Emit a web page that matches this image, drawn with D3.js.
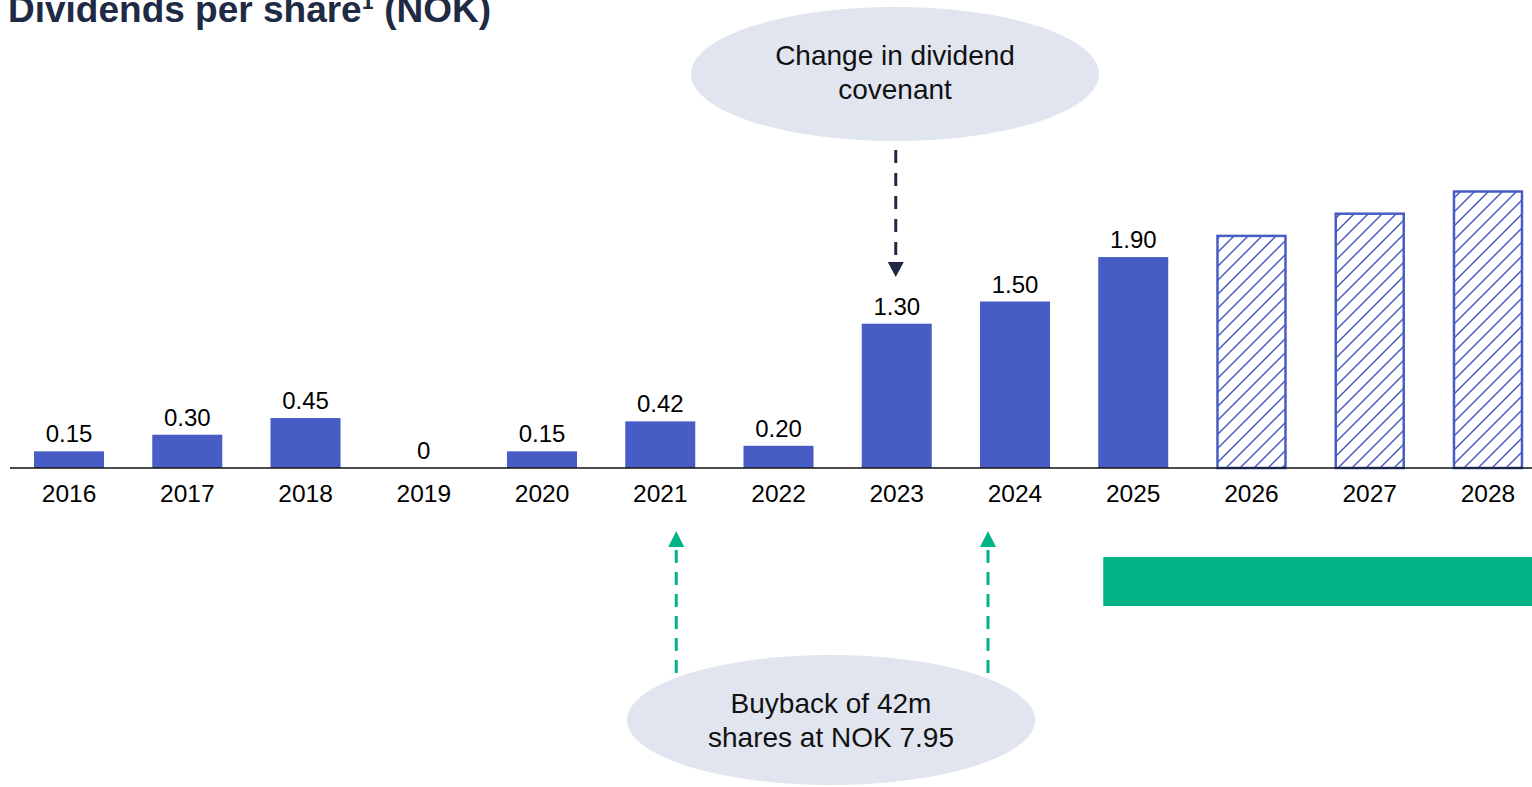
<!DOCTYPE html>
<html>
<head>
<meta charset="utf-8">
<script src="https://cdn.jsdelivr.net/npm/d3@7"></script>
<style>
  html, body { margin: 0; padding: 0; background: #fff; overflow: hidden; }
  text { font-family: "Liberation Sans", Arial, sans-serif; }
</style>
</head>
<body>
<div id="chart"></div>
<script>
// Dividenden je Aktie, 2026-2028 als Ziel (schraffiert)
const years = ["2016", "2017", "2018", "2019", "2020", "2021", "2022", "2023", "2024", "2025", "2026", "2027", "2028"];
const dividends = [0.15, 0.30, 0.45, 0, 0.15, 0.42, 0.20, 1.30, 1.50, 1.90, 2.10, 2.30, 2.50];
const valueLabels = ["0.15", "0.30", "0.45", "0", "0.15", "0.42", "0.20", "1.30", "1.50", "1.90", "", "", ""];
const isTarget = [false, false, false, false, false, false, false, false, false, false, true, true, true];

const W = 1532, H = 787;
const blue = "#485cc6", navy = "#1f2a44", green = "#02b388", bubble = "#e1e5f0";

const svg = d3.select("#chart").append("svg")
    .attr("width", W)
    .attr("height", H);

const x = d3.scaleBand()
    .domain(years)
    .range([9.9, 1547.1])
    .paddingInner(0.408)
    .paddingOuter(0.204);

const y = d3.scaleLinear()
    .domain([0, 2.5])
    .range([468, 468 - 277.5]);

// Schraffur
const pat = svg.append("defs").append("pattern")
    .attr("id", "hatch")
    .attr("patternUnits", "userSpaceOnUse")
    .attr("width", 14)
    .attr("height", 14);
pat.append("path")
    .attr("d", "M-1,1 l2,-2 M0,14 l14,-14 M13,15 l2,-2")
    .attr("stroke", blue)
    .attr("stroke-width", 1.5);

// Titel (oben abgeschnitten wie im Original)
svg.append("text")
    .attr("x", 8)
    .attr("y", 22)
    .attr("font-size", 37)
    .attr("font-weight", "bold")
    .attr("fill", navy)
    .text("Dividends per share¹ (NOK)");

const data = years.map((d, i) => ({year: d, value: dividends[i], label: valueLabels[i], target: isTarget[i]}));

svg.append("g")
    .selectAll("rect")
    .data(data)
    .enter().append("rect")
    .attr("x", d => d.target ? x(d.year) + 1 : x(d.year))
    .attr("y", d => d.target ? y(d.value) + 1 : y(d.value))
    .attr("width", d => d.target ? x.bandwidth() - 2 : x.bandwidth())
    .attr("height", d => Math.max(0, y(0) - y(d.value) - (d.target ? 1 : 0)))
    .attr("fill", d => d.target ? "url(#hatch)" : blue)
    .attr("stroke", d => d.target ? blue : "none")
    .attr("stroke-width", 2.5);

// Wertbeschriftungen
svg.append("g")
    .selectAll("text")
    .data(data.filter(d => d.label !== ""))
    .enter().append("text")
    .attr("x", d => x(d.year) + x.bandwidth() / 2)
    .attr("y", d => y(d.value) - 9)
    .attr("text-anchor", "middle")
    .attr("font-size", 24)
    .attr("fill", "#000")
    .text(d => d.label);

// x-Achse
const xAxis = svg.append("g")
    .attr("transform", `translate(0,${y(0)})`)
    .call(d3.axisBottom(x).tickSize(0));
xAxis.select(".domain").remove();
xAxis.selectAll("text")
    .attr("y", 34)
    .attr("dy", null)
    .attr("font-size", 24.5)
    .attr("font-family", "Liberation Sans, Arial, sans-serif")
    .attr("fill", "#000");
svg.append("line")
    .attr("x1", 10).attr("x2", W)
    .attr("y1", y(0)).attr("y2", y(0))
    .attr("stroke", "#111")
    .attr("stroke-width", 1.5);

// Blasen
function bubbleNote(cx, cy, rx, ry, lines, off) {
    svg.append("ellipse")
        .attr("cx", cx).attr("cy", cy)
        .attr("rx", rx).attr("ry", ry)
        .attr("fill", bubble);
    svg.append("g").selectAll("text")
        .data(lines)
        .enter().append("text")
        .attr("x", cx)
        .attr("y", (d, i) => cy + off + i * 34)
        .attr("text-anchor", "middle")
        .attr("font-size", 28)
        .attr("fill", "#111")
        .text(d => d);
}

const midX = yr => x(yr) + x.bandwidth() / 2;

bubbleNote(895, 74, 204, 67, ["Change in dividend", "covenant"], -9);
bubbleNote(831, 720, 204, 65, ["Buyback of 42m", "shares at NOK 7.95"], -7);

// Pfeil nach unten (Covenant)
const ax = midX("2023") - 1;
svg.append("line")
    .attr("x1", ax).attr("x2", ax)
    .attr("y1", 150).attr("y2", 262)
    .attr("stroke", navy)
    .attr("stroke-width", 3)
    .attr("stroke-dasharray", "13,10");
svg.append("path")
    .attr("d", `M${ax - 8},262 L${ax + 8},262 L${ax},277 Z`)
    .attr("fill", navy);

// Pfeile nach oben (Rückkauf)
[midX("2021") + 16, midX("2024") - 27].forEach(gx => {
    svg.append("line")
        .attr("x1", gx).attr("x2", gx)
        .attr("y1", 673).attr("y2", 547)
        .attr("stroke", green)
        .attr("stroke-width", 3)
        .attr("stroke-dasharray", "13,9");
    svg.append("path")
        .attr("d", `M${gx - 8},547 L${gx + 8},547 L${gx},531 Z`)
        .attr("fill", green);
});

// gruener Balken unter den Zieljahren
svg.append("rect")
    .attr("x", x("2025") + 5)
    .attr("y", 557)
    .attr("width", W - x("2025") - 5)
    .attr("height", 49)
    .attr("fill", green);
</script>
</body>
</html>
